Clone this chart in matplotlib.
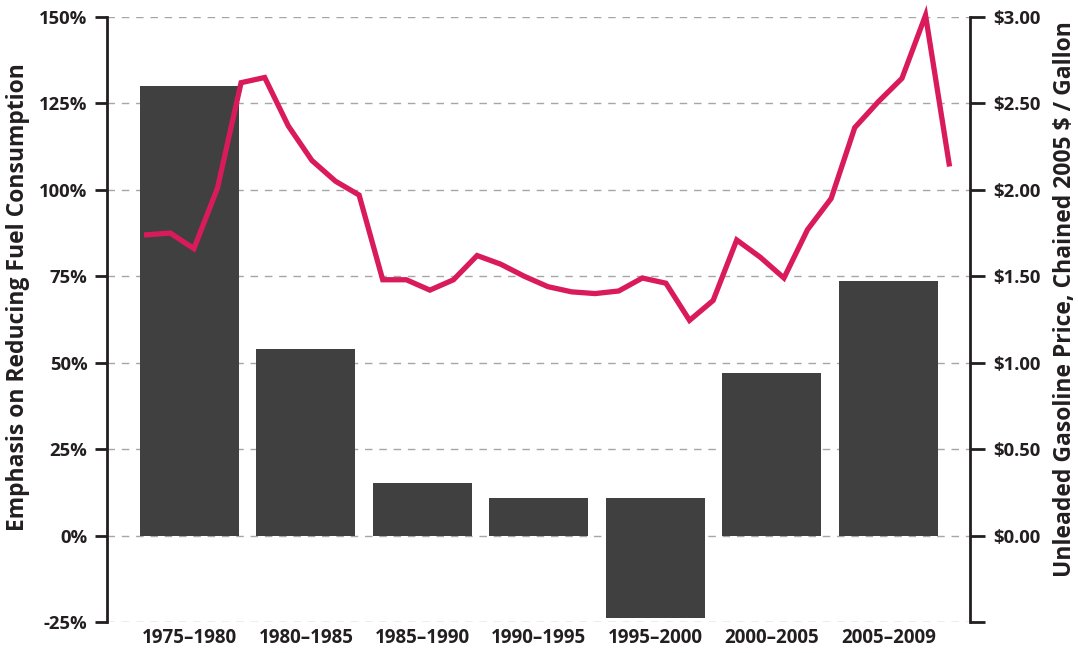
import numpy as np
import matplotlib
matplotlib.use("Agg")
import matplotlib.pyplot as plt
from matplotlib.ticker import FixedLocator

# ---- data ----
periods = ["1975–1980", "1980–1985", "1985–1990", "1990–1995",
           "1995–2000", "2000–2005", "2005–2009"]
bar_top = [130.0, 53.9, 15.3, 11.0, 11.0, 46.9, 73.6]
bar_bottom = [0.0, 0.0, 0.0, 0.0, -23.9, 0.0, 0.0]

years = list(range(1975, 2010))
price = [1.74, 1.75, 1.66, 2.01, 2.62, 2.65, 2.37, 2.17, 2.05, 1.97,
         1.48, 1.48, 1.42, 1.48, 1.62, 1.57, 1.50, 1.44, 1.41, 1.40,
         1.415, 1.49, 1.46, 1.245, 1.36, 1.71, 1.61, 1.49, 1.77, 1.95,
         2.36, 2.51, 2.645, 3.01, 2.15]

left_ticks = [-25, 0, 25, 50, 75, 100, 125, 150]
left_labels = ["-25%", "0%", "25%", "50%", "75%", "100%", "125%", "150%"]
right_ticks = [-0.5, 0.0, 0.5, 1.0, 1.5, 2.0, 2.5, 3.0]
right_labels = ["", "$0.00", "$0.50", "$1.00", "$1.50", "$2.00", "$2.50", "$3.00"]

left_title = "Emphasis on Reducing Fuel Consumption"
right_title = "Unleaded Gasoline Price, Chained 2005 $ / Gallon"

# ---- style ----
FONT = ["Open Sans", "DejaVu Sans"]
plt.rcParams["font.family"] = FONT
TXT = "#231f20"
BAR = "#404040"
LINE = "#d91a5b"
GRID = "#a6a6a6"
W = "bold"

fig = plt.figure(figsize=(10.78, 6.53), dpi=100)
ax = fig.add_axes([107/1078, 1 - 622/653, (970-107)/1078, (622-17)/653])
ax2 = ax.twinx()

x = np.arange(len(periods))
heights = [t - b for t, b in zip(bar_top, bar_bottom)]
ax.bar(x, heights, bottom=bar_bottom, width=0.85, color=BAR, zorder=2)

ax.set_xlim(-0.708, 6.70)
ax.set_ylim(-25, 150)
ax2.set_ylim(-0.5, 3.0)

for t in left_ticks:
    ax.axhline(t, color=GRID, lw=1.0, dashes=(5.4, 4.9), zorder=1)

# year positions along the period axis
yr = np.array(years, dtype=float)
line_x = -0.3674 + (yr - 1975) * 0.2026
ax2.plot(line_x, price, color=LINE, lw=3.8, solid_joinstyle="miter",
         clip_on=False, zorder=3)

ax.set_xticks(x)
ax.set_xticklabels(periods, fontsize=13.5, fontweight=W, color=TXT)
ax.tick_params(axis="x", length=0, pad=4)

ax.yaxis.set_major_locator(FixedLocator(left_ticks))
ax.set_yticklabels(left_labels, fontsize=13.3, fontweight=W, color=TXT)
ax.tick_params(axis="y", length=9, width=2, color=TXT, pad=5)

ax2.yaxis.set_major_locator(FixedLocator(right_ticks))
ax2.set_yticklabels(right_labels, fontsize=13.3, fontweight=W, color=TXT)
ax2.tick_params(axis="y", length=11, width=2, color=TXT, pad=6)

for a in (ax, ax2):
    for s in ("top", "bottom"):
        a.spines[s].set_visible(False)
    a.spines["left"].set_linewidth(2)
    a.spines["right"].set_linewidth(2)
    a.spines["left"].set_color(TXT)
    a.spines["right"].set_color(TXT)
ax2.spines["left"].set_visible(False)
ax.spines["right"].set_visible(False)

fig.text(18/1078, 1 - 297/653, left_title, rotation=90, ha="center", va="center",
         fontsize=16.5, fontweight=W, color=TXT)
fig.text(1065/1078, 1 - 299/653, right_title, rotation=90, ha="center", va="center",
         fontsize=16.5, fontweight=W, color=TXT)

fig.savefig("out.png", dpi=100)
